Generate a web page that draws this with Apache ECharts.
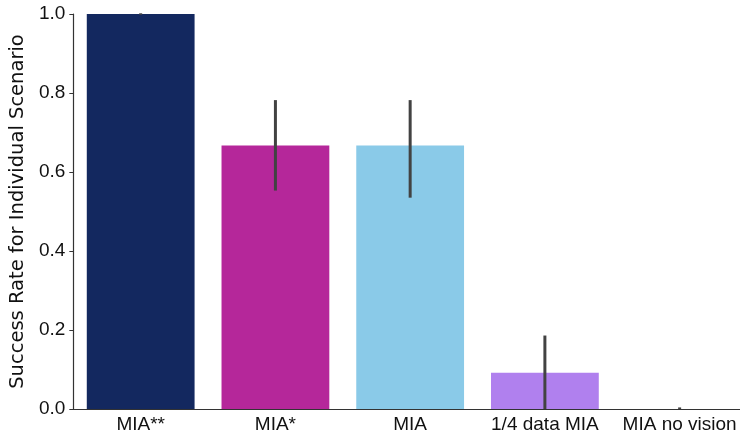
<!DOCTYPE html>
<html>
<head>
<meta charset="utf-8">
<script src="https://cdn.jsdelivr.net/npm/echarts@6/dist/echarts.min.js"></script>
<style>html,body{margin:0;padding:0;background:#fff;overflow:hidden}#c{width:747px;height:437px}</style>
</head>
<body>
<div id="c"></div>
<script>
var categories = ['MIA**', 'MIA*', 'MIA', '1/4 data MIA', 'MIA no vision'];
var values = [1.0, 0.667, 0.667, 0.092, 0.0];
var errLow = [0.998, 0.553, 0.535, 0.0, 0.0];
var errHigh = [1.0, 0.782, 0.782, 0.186, 0.004];
var colors = ['#13285f', '#b5279a', '#8acae8', '#b080ee', '#888888'];
var yTicks = [0, 0.2, 0.4, 0.6, 0.8, 1.0];

var chart = echarts.init(document.getElementById('c'), null, {renderer: 'canvas'});
var font = 'Liberation Sans';
chart.setOption({
  animation: false,
  grid: {left: 70, right: 0, top: 14, bottom: 28, containLabel: false},
  xAxis: {
    type: 'category',
    data: categories,
    axisLine: {lineStyle: {color: '#333', width: 1.2}},
    axisTick: {alignWithLabel: true, length: 4, lineStyle: {color: '#333'}},
    axisLabel: {interval: 0, color: '#111', fontSize: 19, fontFamily: font, margin: 6}
  },
  yAxis: {
    type: 'value',
    min: yTicks[0], max: yTicks[yTicks.length - 1], interval: 0.2,
    name: 'Success Rate for Individual Scenario',
    nameLocation: 'middle', nameGap: 45,
    nameTextStyle: {color: '#111', fontSize: 19.5, fontFamily: 'DejaVu Sans'},
    axisLine: {show: true, lineStyle: {color: '#333', width: 1.2}},
    axisTick: {show: true, length: 4, lineStyle: {color: '#333'}},
    splitLine: {show: false},
    axisLabel: {color: '#111', fontSize: 19, fontFamily: font, margin: 8,
      formatter: function (v) { return v.toFixed(1); }}
  },
  series: [{
    type: 'bar',
    barWidth: '80%',
    data: values.map(function (v, i) { return {value: v, itemStyle: {color: colors[i]}}; })
  }, {
    type: 'custom',
    z: 5,
    data: categories.map(function (c, i) { return [i, errLow[i], errHigh[i]]; }),
    renderItem: function (params, api) {
      var lo = api.coord([api.value(0), api.value(1)]);
      var hi = api.coord([api.value(0), api.value(2)]);
      return {
        type: 'line',
        shape: {x1: lo[0], y1: lo[1], x2: hi[0], y2: Math.min(hi[1], lo[1] - 1.5)},
        style: {stroke: '#424242', lineWidth: 3}
      };
    }
  }]
});
</script>
</body>
</html>
